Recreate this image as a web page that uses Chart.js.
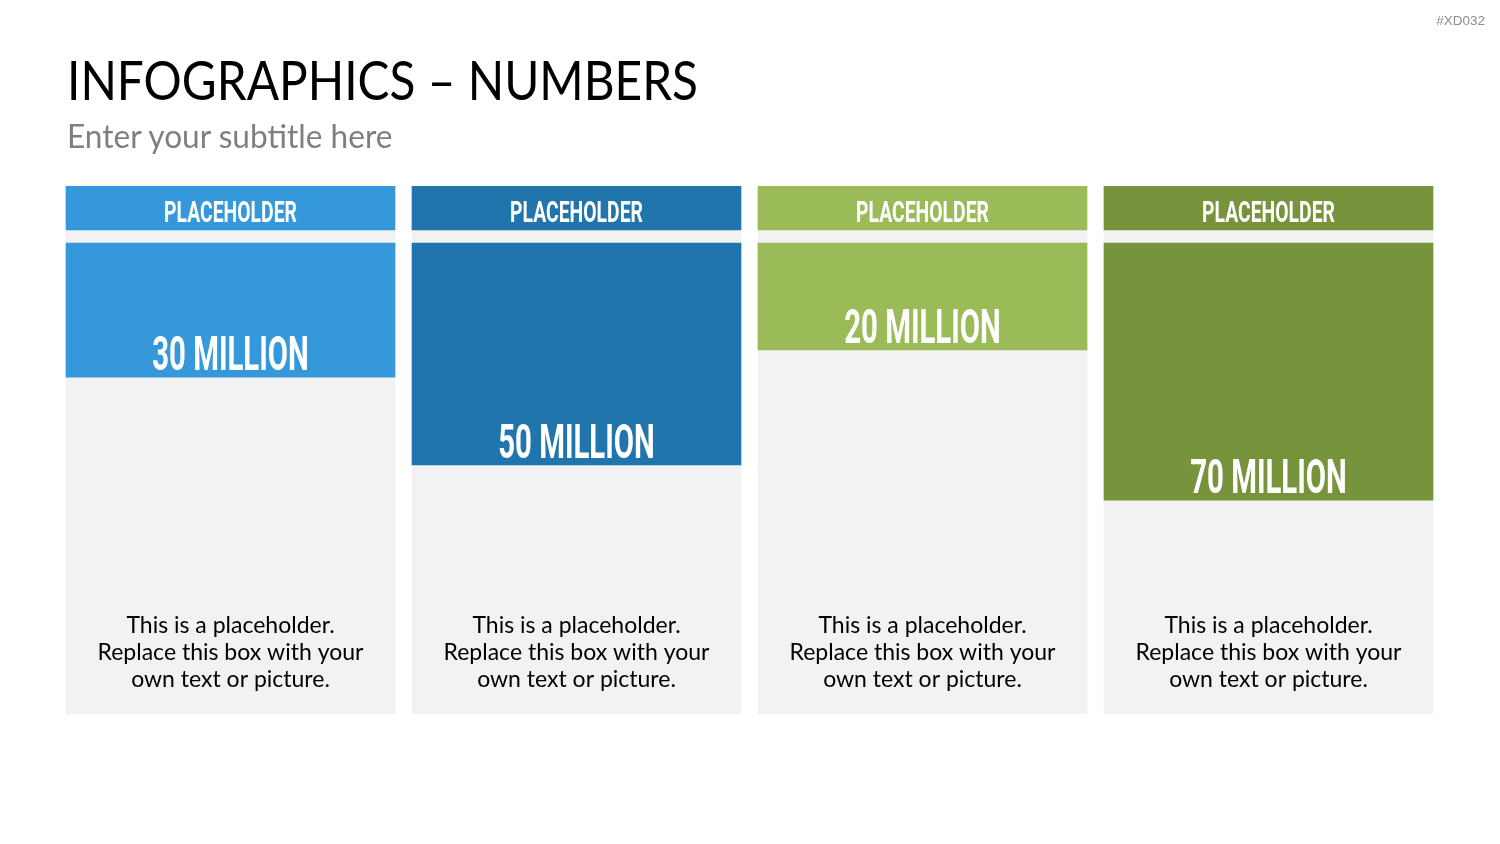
<!DOCTYPE html>
<html><head><meta charset="utf-8">
<script src="https://cdn.jsdelivr.net/npm/chart.js@4.4.0/dist/chart.umd.min.js"></script>
<style>
html,body{margin:0;padding:0;background:#fff;width:1500px;height:844px;overflow:hidden;}
#c{position:absolute;left:0;top:0;}
.t{position:absolute;white-space:nowrap;line-height:1;}
</style></head><body>
<canvas id="c" width="1500" height="844"></canvas>
<div class="t" id="tag" style="right:15px;top:14px;font-family:'Liberation Sans';font-size:13.5px;color:#8c8c8c;">#XD032</div>
<div class="t" id="title" style="left:67px;top:53px;font-family:Lato;font-size:54px;color:#000;transform:scaleX(0.885);transform-origin:0 0;">INFOGRAPHICS – NUMBERS</div>
<div class="t" id="sub" style="left:67px;top:120px;font-family:Lato;font-size:32px;color:#7f7f7f;transform:scaleX(0.988);transform-origin:0 0;">Enter your subtitle here</div>
<script>
// ---- data ----
const categories = ['PLACEHOLDER', 'PLACEHOLDER', 'PLACEHOLDER', 'PLACEHOLDER'];
const valuesMillion = [30, 50, 20, 70];
const fillLevels = [28.5, 47.1, 22.7, 54.6];          // fill depth, % of column body
const bodyLines = ['This is a placeholder.', 'Replace this box with your', 'own text or picture.'];
const colors = ['#3598db', '#2075ad', '#9bbb59', '#77933c'];

// ---- layout constants (scale units: 0..100 = column body) ----
const HEADER = [-12.1, -2.76];
const BODY = [-2.76, 100];

const valueLabels = valuesMillion.map(v => v + ' MILLION');

const textPlugin = {
  id: 'texts',
  afterDatasetsDraw(chart) {
    const ctx = chart.ctx;
    const y = chart.scales.y;
    const meta = chart.getDatasetMeta(0);
    meta.data.forEach((bar, i) => {
      const cx = bar.x;
      ctx.save();
      ctx.fillStyle = '#ffffff';
      ctx.textAlign = 'center';
      ctx.textBaseline = 'alphabetic';
      // header label
      ctx.save();
      ctx.translate(cx, y.getPixelForValue(HEADER[1]) - 8);
      ctx.scale(0.645, 1);
      ctx.font = 'bold 30px Roboto';
      ctx.fillText(categories[i], 0, 0);
      ctx.restore();
      // value label
      ctx.save();
      ctx.translate(cx, y.getPixelForValue(fillLevels[i]) - 7);
      ctx.scale(0.612, 1);
      ctx.font = 'bold 48px Roboto';
      ctx.fillText(valueLabels[i], 0, 0);
      ctx.restore();
      // body text
      ctx.fillStyle = '#000000';
      ctx.font = '23px Lato';
      const bottom = y.getPixelForValue(100);
      bodyLines.forEach((ln, k) => {
        ctx.fillText(ln, cx, bottom - 81 + k * 27);
      });
      ctx.restore();
    });
  }
};

new Chart(document.getElementById('c'), {
  type: 'bar',
  data: {
    labels: categories.map((c, i) => c + ' ' + (i + 1)),
    datasets: [
      { label: 'value', data: fillLevels.map(v => [0, v]), backgroundColor: colors },
      { label: 'header', data: categories.map(() => HEADER), backgroundColor: colors },
      { label: 'body', data: categories.map(() => BODY), backgroundColor: '#f2f2f2' }
    ]
  },
  options: {
    responsive: false,
    animation: false,
    devicePixelRatio: 1,
    layout: { padding: { left: 57.5, right: 58.5, top: 186, bottom: 130 } },
    datasets: { bar: { grouped: false, barThickness: 329, borderWidth: 0, borderSkipped: false } },
    scales: {
      x: { display: false },
      y: { display: false, reverse: true, min: HEADER[0], max: 100 }
    },
    plugins: { legend: { display: false }, tooltip: { enabled: false }, title: { display: false } }
  },
  plugins: [textPlugin]
});
</script>
</body></html>
